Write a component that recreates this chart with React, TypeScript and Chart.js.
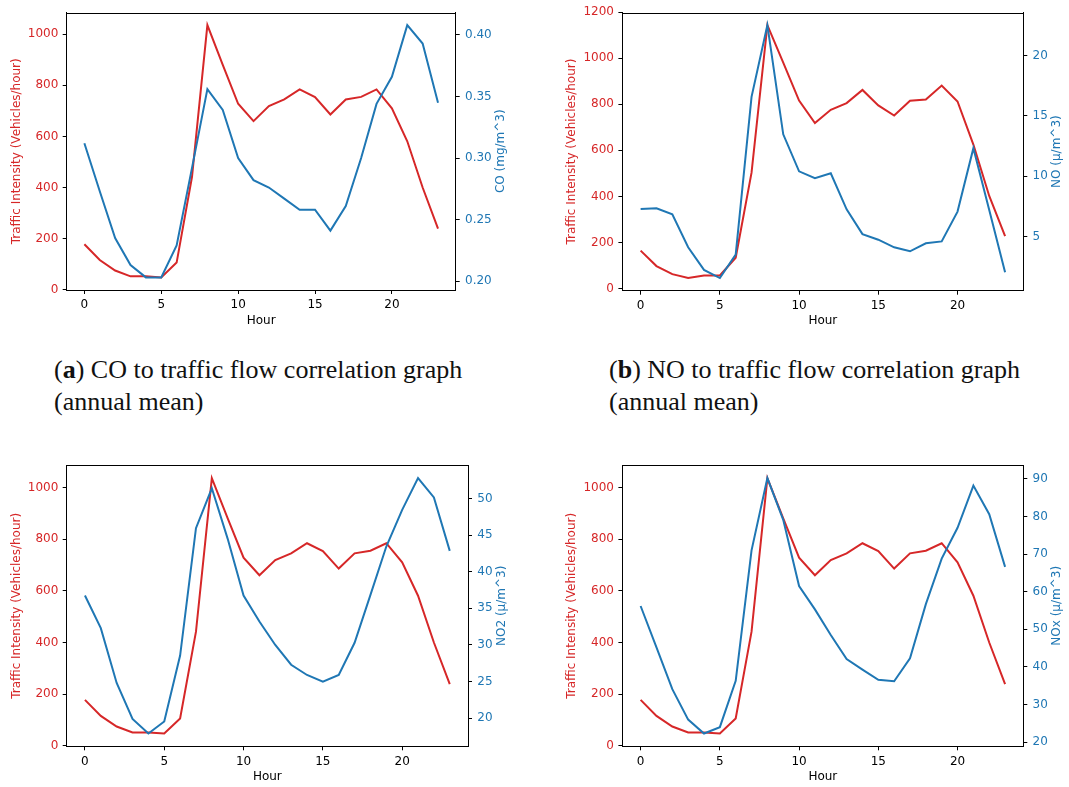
import React, { useEffect, useRef } from 'react';
import Chart from 'chart.js/auto';

// ---------------- data ----------------
const hours = [0, 1, 2, 3, 4, 5, 6, 7, 8, 9, 10, 11, 12, 13, 14, 15, 16, 17, 18, 19, 20, 21, 22, 23];
const hourTicks = [0, 5, 10, 15, 20];

// traffic intensity (vehicles/hour) used in panels a, c, d
const traffic = [178, 116, 75, 52, 52, 48, 106, 442, 1036, 880, 728, 660, 719, 745, 784, 754, 686, 745, 755, 784, 710, 581, 400, 239];
// traffic intensity used in panel b
const trafficB = [165, 98, 63, 46, 57, 57, 134, 503, 1143, 980, 816, 718, 776, 805, 862, 795, 751, 815, 820, 881, 812, 625, 402, 228];

const co = [0.312, 0.273, 0.235, 0.213, 0.203, 0.203, 0.229, 0.292, 0.356, 0.339, 0.300, 0.282, 0.276, 0.267, 0.258, 0.258, 0.241, 0.261, 0.300, 0.344, 0.366, 0.408, 0.393, 0.345];
const no = [7.28, 7.33, 6.84, 4.1, 2.23, 1.55, 3.5, 16.57, 22.52, 13.47, 10.4, 9.83, 10.24, 7.25, 5.19, 4.73, 4.1, 3.77, 4.43, 4.59, 7.06, 12.32, 7.2, 2.04];
const no2 = [36.75, 32.3, 24.8, 19.9, 17.9, 19.55, 28.56, 45.95, 51.4, 44.5, 36.75, 33.2, 30.0, 27.3, 25.9, 25.0, 25.9, 30.3, 36.85, 43.45, 48.45, 52.8, 50.15, 42.85];
const nox = [56.2, 45.2, 34.1, 26.0, 22.3, 24.0, 36.3, 71.0, 90.2, 79.1, 61.5, 55.3, 48.5, 42.1, 39.3, 36.6, 36.2, 42.3, 56.7, 68.8, 77.0, 88.2, 80.6, 66.6];

const trafficTicks = [0, 200, 400, 600, 800, 1000];
const trafficTicksB = [0, 200, 400, 600, 800, 1000, 1200];
const coTicks = [0.2, 0.25, 0.3, 0.35, 0.4];
const coTickLabels = ['0.20', '0.25', '0.30', '0.35', '0.40'];
const noTicks = [5, 10, 15, 20];
const no2Ticks = [20, 25, 30, 35, 40, 45, 50];
const noxTicks = [20, 30, 40, 50, 60, 70, 80, 90];

const trafficTitle = 'Traffic Intensity (Vehicles/hour)';
const xTitle = 'Hour';

// ---------------- styles ----------------
const RED = '#d62728';
const BLUE = '#1f77b4';
const FAMILY = '"DejaVu Sans", sans-serif';
const FONT = { family: FAMILY, size: 12 };

function autoLimits(vals: number[]): [number, number] {
  const lo = Math.min(...vals);
  const hi = Math.max(...vals);
  const m = (hi - lo) * 0.05;
  return [lo - m, hi + m];
}

const framePlugin = {
  id: 'frame',
  afterDraw(chart: any, _args: any, opts: any) {
    const { ctx, chartArea: a } = chart;
    ctx.save();
    ctx.strokeStyle = '#000';
    ctx.lineWidth = 1;
    ctx.beginPath();
    const ty = Math.round(a.top) + 0.5;
    ctx.moveTo(a.left, ty);
    ctx.lineTo(a.right, ty);
    ctx.stroke();

    ctx.font = `12px ${FAMILY}`;
    ctx.textAlign = 'center';
    ctx.textBaseline = 'middle';
    const cy = (a.top + a.bottom) / 2;
    const maxW = (labels: string[]) => Math.max(...labels.map((l) => ctx.measureText(l).width));

    const lx = a.left - (8.4 + maxW(opts.leftLabels) + 11.3);
    ctx.save();
    ctx.translate(lx, cy);
    ctx.rotate(-Math.PI / 2);
    ctx.fillStyle = RED;
    ctx.fillText(opts.leftTitle, 0, 0);
    ctx.restore();

    const rx = a.right + (9.3 + maxW(opts.rightLabels) + 9.5);
    ctx.save();
    ctx.translate(rx, cy);
    ctx.rotate(-Math.PI / 2);
    ctx.fillStyle = BLUE;
    ctx.fillText(opts.rightTitle, 0, 0);
    ctx.restore();

    ctx.fillStyle = '#000';
    ctx.fillText(opts.xTitle, (a.left + a.right) / 2, a.bottom + 30.5);
    ctx.restore();
  },
};

type Rect = { x: number; y: number; w: number; h: number };
type Area = { l: number; t: number; r: number; b: number };

type PanelProps = {
  box: Rect;
  area: Area;
  left: number[];
  right: number[];
  leftTicks: number[];
  rightTicks: number[];
  rightTickLabels?: string[];
  rightTitle: string;
};

function Panel(p: PanelProps) {
  const ref = useRef<HTMLCanvasElement | null>(null);
  useEffect(() => {
    if (!ref.current) return;
    const { box, area } = p;
    const [xl0, xl1] = autoLimits(hours);
    const [yl0, yl1] = autoLimits(p.left);
    const [yr0, yr1] = autoLimits(p.right);
    const leftLabels = p.leftTicks.map((v) => String(v));
    const rightLabels = p.rightTickLabels || p.rightTicks.map((v) => String(v));
    const fmt = (vals: number[], labels: string[]) => (v: any) => {
      const i = vals.findIndex((t) => Math.abs(t - Number(v)) < 1e-9);
      return i >= 0 ? labels[i] : '';
    };
    const setTicks = (vals: number[]) => (s: any) => {
      s.ticks = vals.map((v) => ({ value: v }));
    };
    const grid = { display: true, drawOnChartArea: false, drawTicks: true, tickLength: 4, color: '#000', tickColor: '#000', lineWidth: 1 };
    const border = { display: true, color: '#000', width: 1 };

    const chart = new Chart(ref.current, {
      type: 'line',
      data: {
        datasets: [
          {
            label: p.rightTitle,
            data: hours.map((h, i) => ({ x: h, y: p.right[i] })),
            yAxisID: 'y1',
            borderColor: BLUE,
            backgroundColor: BLUE,
            borderWidth: 2,
            pointRadius: 0,
            tension: 0,
            fill: false,
          },
          {
            label: trafficTitle,
            data: hours.map((h, i) => ({ x: h, y: p.left[i] })),
            yAxisID: 'y',
            borderColor: RED,
            backgroundColor: RED,
            borderWidth: 2,
            pointRadius: 0,
            tension: 0,
            fill: false,
          },
        ],
      },
      options: {
        responsive: false,
        maintainAspectRatio: false,
        animation: false,
        devicePixelRatio: 1,
        layout: { padding: { top: area.t - box.y, left: 0, right: 0, bottom: 0 } },
        plugins: {
          legend: { display: false },
          tooltip: { enabled: false },
          frame: { leftTitle: trafficTitle, rightTitle: p.rightTitle, xTitle, leftLabels, rightLabels },
        } as any,
        scales: {
          x: {
            type: 'linear',
            min: xl0,
            max: xl1,
            afterBuildTicks: setTicks(hourTicks),
            ticks: { color: '#000', font: FONT, padding: 4, maxRotation: 0, autoSkip: false, callback: fmt(hourTicks, hourTicks.map(String)) },
            grid,
            border,
            afterFit: (s: any) => {
              s.height = box.y + box.h - area.b;
            },
          },
          y: {
            type: 'linear',
            position: 'left',
            min: yl0,
            max: yl1,
            afterBuildTicks: setTicks(p.leftTicks),
            ticks: { color: RED, font: FONT, padding: 4.4, autoSkip: false, callback: fmt(p.leftTicks, leftLabels) },
            grid,
            border,
            afterFit: (s: any) => {
              s.width = area.l - box.x;
            },
          },
          y1: {
            type: 'linear',
            position: 'right',
            min: yr0,
            max: yr1,
            afterBuildTicks: setTicks(p.rightTicks),
            ticks: { color: BLUE, font: FONT, padding: 5.3, autoSkip: false, callback: fmt(p.rightTicks, rightLabels) },
            grid,
            border,
            afterFit: (s: any) => {
              s.width = box.x + box.w - area.r;
            },
          },
        },
      } as any,
      plugins: [framePlugin as any],
    });
    return () => chart.destroy();
  }, []);
  return (
    <canvas
      ref={ref}
      width={p.box.w}
      height={p.box.h}
      style={{ position: 'absolute', left: p.box.x, top: p.box.y, width: p.box.w, height: p.box.h }}
    />
  );
}

const captionStyle: React.CSSProperties = {
  position: 'absolute',
  fontFamily: '"Liberation Serif", "Times New Roman", serif',
  fontSize: 26,
  lineHeight: '32px',
  color: '#111',
  whiteSpace: 'nowrap',
};

export default function App() {
  return (
    <div style={{ position: 'absolute', left: 0, top: 0, width: 1069, height: 787, background: '#fff', overflow: 'hidden' }}>
      <Panel
        box={{ x: 0, y: 0, w: 540, h: 340 }}
        area={{ l: 66.7, t: 9.3, r: 455.7, b: 290 }}
        left={traffic}
        right={co}
        leftTicks={trafficTicks}
        rightTicks={coTicks}
        rightTickLabels={coTickLabels}
        rightTitle="CO (mg/m^3)"
      />
      <Panel
        box={{ x: 540, y: 0, w: 529, h: 340 }}
        area={{ l: 622.4, t: 10.3, r: 1023.3, b: 290.7 }}
        left={trafficB}
        right={no}
        leftTicks={trafficTicksB}
        rightTicks={noTicks}
        rightTitle="NO (μ/m^3)"
      />
      <Panel
        box={{ x: 0, y: 450, w: 540, h: 337 }}
        area={{ l: 66.7, t: 465.3, r: 468, b: 746.3 }}
        left={traffic}
        right={no2}
        leftTicks={trafficTicks}
        rightTicks={no2Ticks}
        rightTitle="NO2 (μ/m^3)"
      />
      <Panel
        box={{ x: 540, y: 450, w: 529, h: 337 }}
        area={{ l: 622.4, t: 465.3, r: 1023.3, b: 746.3 }}
        left={traffic}
        right={nox}
        leftTicks={trafficTicks}
        rightTicks={noxTicks}
        rightTitle="NOx (μ/m^3)"
      />
      <div style={{ ...captionStyle, left: 54, top: 354 }}>
        (<b>a</b>) CO to traffic flow correlation graph
        <br />
        (annual mean)
      </div>
      <div style={{ ...captionStyle, left: 609, top: 354 }}>
        (<b>b</b>) NO to traffic flow correlation graph
        <br />
        (annual mean)
      </div>
    </div>
  );
}
